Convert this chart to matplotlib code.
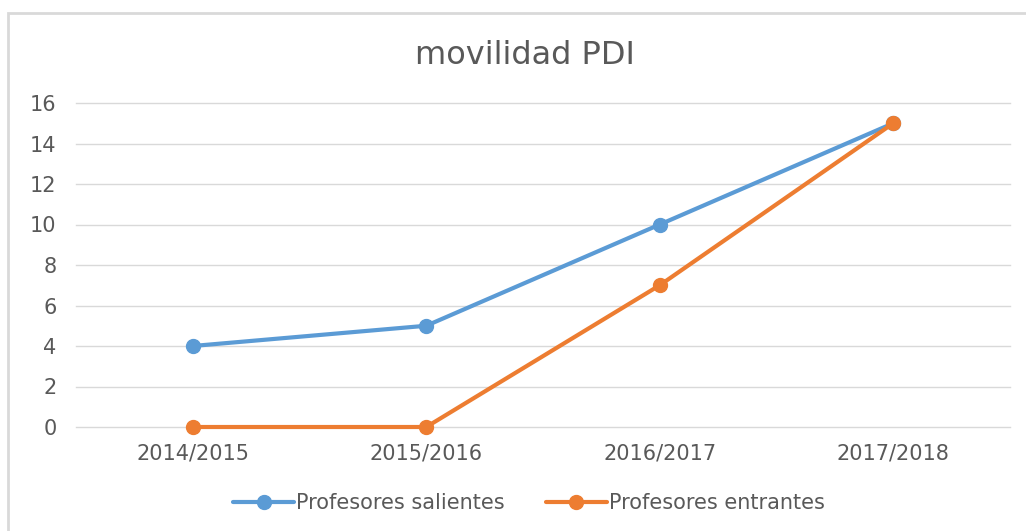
import matplotlib
matplotlib.use("Agg")
import matplotlib.pyplot as plt
from matplotlib.patches import Rectangle

years = ["2014/2015", "2015/2016", "2016/2017", "2017/2018"]
salientes = [4, 5, 10, 15]
entrantes = [0, 0, 7, 15]
y_ticks = [0, 2, 4, 6, 8, 10, 12, 14, 16]

blue = "#5B9BD5"
orange = "#ED7D31"
text_gray = "#595959"
grid_gray = "#D9D9D9"

plt.rcParams["font.family"] = ["DejaVu Sans"]

fig = plt.figure(figsize=(10.26, 5.31), dpi=100)
ax = fig.add_axes([76 / 1026, 1 - 427 / 531, (1010 - 76) / 1026, (427 - 103) / 531])

x = list(range(len(years)))
ax.plot(x, salientes, color=blue, lw=3, marker="o", ms=10,
        label="Profesores salientes", solid_capstyle="round", zorder=3, clip_on=False)
ax.plot(x, entrantes, color=orange, lw=3, marker="o", ms=10,
        label="Profesores entrantes", solid_capstyle="round", zorder=4, clip_on=False)

ax.set_xlim(-0.5, len(years) - 0.5)
ax.set_ylim(0, 16)
ax.set_yticks(y_ticks)
ax.set_xticks(x)
ax.set_xticklabels(years)
ax.grid(axis="y", color=grid_gray, lw=1)
for gl in ax.get_ygridlines():
    gl.set_clip_on(False)
ax.set_axisbelow(True)
for s in ax.spines.values():
    s.set_visible(False)
ax.tick_params(axis="both", length=0, labelsize=15, colors=text_gray)
ax.tick_params(axis="y", pad=14)
ax.tick_params(axis="x", pad=12)

fig.text(525 / 1026, 1 - 55 / 531, "movilidad PDI", ha="center", va="center",
         fontsize=23, color=text_gray)

leg = fig.legend(loc="center", bbox_to_anchor=(529 / 1026, 1 - 503 / 531), ncol=2,
                 frameon=False, fontsize=15, handlelength=2.9, handletextpad=0.1,
                 columnspacing=2.0)
for t in leg.get_texts():
    t.set_color(text_gray)

fig.patches.append(Rectangle((8 / 1026, -0.1), 1.2, 1 - 13 / 531 + 0.1,
                             transform=fig.transFigure, fill=False,
                             edgecolor=grid_gray, lw=2))

fig.savefig("out.png", dpi=100)
